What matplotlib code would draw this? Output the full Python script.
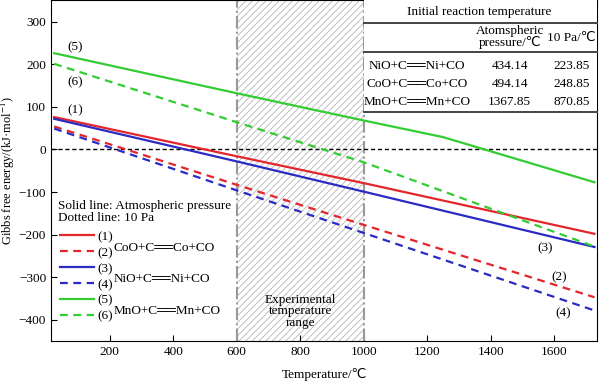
import numpy as np
import matplotlib
matplotlib.use("Agg")
import matplotlib.pyplot as plt
from matplotlib.lines import Line2D
from matplotlib.patches import Rectangle

plt.rcParams['font.family'] = ['Liberation Serif', 'DejaVu Sans']
plt.rcParams['font.size'] = 9.5
plt.rcParams['mathtext.fontset'] = 'stix'
plt.rcParams['hatch.linewidth'] = 0.6
plt.rcParams['hatch.color'] = '#b5b5b5'

# curve data (temperature in C, Gibbs energy in kJ/mol)
t_coo = [25, 600, 1000, 1727]
g_coo_atm = [76, -16, -79, -198]
g_coo_10pa = [54, -83, -177, -347]

t_nio = [25, 600, 1000, 1727]
g_nio_atm = [72, -28, -99, -229]
g_nio_10pa = [49, -96, -196, -378]

t_mno_atm = [25, 600, 1000, 1250, 1727]
g_mno_atm = [226, 132, 68, 29, -77]
t_mno_10pa = [25, 600, 1000, 1400, 1727]
g_mno_10pa = [201, 64, -30, -139, -228]

# table values
reactions = ["NiO+C\u2550\u2550Ni+CO", "CoO+C\u2550\u2550Co+CO", "MnO+C\u2550\u2550Mn+CO"]
t_start_atm = ["434.14", "494.14", "1367.85"]
t_start_10pa = ["223.85", "248.85", "870.85"]

red = '#e3262b'
blue = '#2b2bc4'
green = '#33cc33'
fs = 9.5

fig = plt.figure(figsize=(6, 3.82), dpi=100)
ax = fig.add_axes([0.085, 0.107, 0.91, 0.892])

# experimental range
ax.axvspan(600, 1000, facecolor='white', edgecolor='#b5b5b5', hatch='/////', lw=0)
for xv in (600, 1000):
    ax.axvline(xv, color='#999999', lw=1.5, ls=(0, (6, 1.5, 1, 1.5)))

ax.axhline(0, color='black', lw=1, ls=(0, (3, 2)))

lw = 1.6
dash = (0, (3.5, 2.5))
ax.plot(t_coo, g_coo_atm, color=red, lw=lw)
ax.plot(t_coo, g_coo_10pa, color=red, lw=lw, ls=dash)
ax.plot(t_nio, g_nio_atm, color=blue, lw=lw)
ax.plot(t_nio, g_nio_10pa, color=blue, lw=lw, ls=dash)
ax.plot(t_mno_atm, g_mno_atm, color=green, lw=lw)
ax.plot(t_mno_10pa, g_mno_10pa, color=green, lw=lw, ls=dash)

ax.set_xlim(15, 1735)
ax.set_ylim(-450, 350)
ax.set_xticks([200, 400, 600, 800, 1000, 1200, 1400, 1600])
ax.set_yticks([-400, -300, -200, -100, 0, 100, 200, 300])
ax.tick_params(direction='in', length=4, labelsize=9.5)
ax.set_xlabel("Temperature/\u2103", fontsize=fs, labelpad=7)
ax.set_ylabel("Gibbs free energy/(kJ\u00b7mol$^{-1}$)", fontsize=9, labelpad=1)

# curve labels
ax.text(90, 239, "(5)", ha='center', va='center', fontsize=fs)
ax.text(90, 157, "(6)", ha='center', va='center', fontsize=fs)
ax.text(90, 92, "(1)", ha='center', va='center', fontsize=fs)
ax.text(1573, -232, "(3)", ha='center', va='center', fontsize=fs)
ax.text(1617, -300, "(2)", ha='center', va='center', fontsize=fs)
ax.text(1627, -385, "(4)", ha='center', va='center', fontsize=fs)

ax.text(800, -380, "Experimental\ntemperature\nrange", ha='center', va='center',
        fontsize=fs, linespacing=0.95)

# legend
handles = [Line2D([], [], color=red, lw=lw), Line2D([], [], color=red, lw=lw, ls=dash),
           Line2D([], [], color=blue, lw=lw), Line2D([], [], color=blue, lw=lw, ls=dash),
           Line2D([], [], color=green, lw=lw), Line2D([], [], color=green, lw=lw, ls=dash)]
leg = ax.legend(handles, ["(1)", "(2)", "(3)", "(4)", "(5)", "(6)"],
                frameon=False, fontsize=fs,
                loc='center left', bbox_to_anchor=(0.006, 0.189),
                handlelength=2.6, handletextpad=0.3, labelspacing=0.28,
                borderaxespad=0, borderpad=0.4)
ax.text(0.0128, 0.380, "Solid line: Atmospheric pressure\nDotted line: 10 Pa",
        transform=ax.transAxes, ha='left', va='center', fontsize=fs, linespacing=1.0)
ax.text(213, -232, reactions[1], ha='left', va='center', fontsize=fs)
ax.text(213, -305, reactions[0], ha='left', va='center', fontsize=fs)
ax.text(213, -380, reactions[2], ha='left', va='center', fontsize=fs)

# table of initial reaction temperatures
tr = ax.get_xaxis_transform()
ax.add_patch(Rectangle((1000, 0.672), 740, 0.33, transform=tr, facecolor='white',
                       edgecolor='none', zorder=3))
for yf in (0.935, 0.849, 0.672):
    ax.plot([1000, 1735], [yf, yf], transform=tr, color='#444444', lw=1.4, zorder=4,
            clip_on=False)
ax.text(1365, 0.965, "Initial reaction temperature", transform=tr, ha='center',
        va='center', fontsize=fs, zorder=5)
ax.text(1460, 0.892, "Atomspheric\npressure/\u2103", transform=tr, ha='center',
        va='center', fontsize=fs, linespacing=0.9, zorder=5)
ax.text(1655, 0.889, "10 Pa/\u2103", transform=tr, ha='center', va='center',
        fontsize=fs, zorder=5)
for i, yf in enumerate((0.807, 0.755, 0.702)):
    ax.text(1167, yf, reactions[i], transform=tr, ha='center', va='center',
            fontsize=fs, zorder=5)
    ax.text(1460, yf, t_start_atm[i], transform=tr, ha='center', va='center',
            fontsize=fs, zorder=5)
    ax.text(1655, yf, t_start_10pa[i], transform=tr, ha='center', va='center',
            fontsize=fs, zorder=5)

fig.savefig("out.png", dpi=100)
